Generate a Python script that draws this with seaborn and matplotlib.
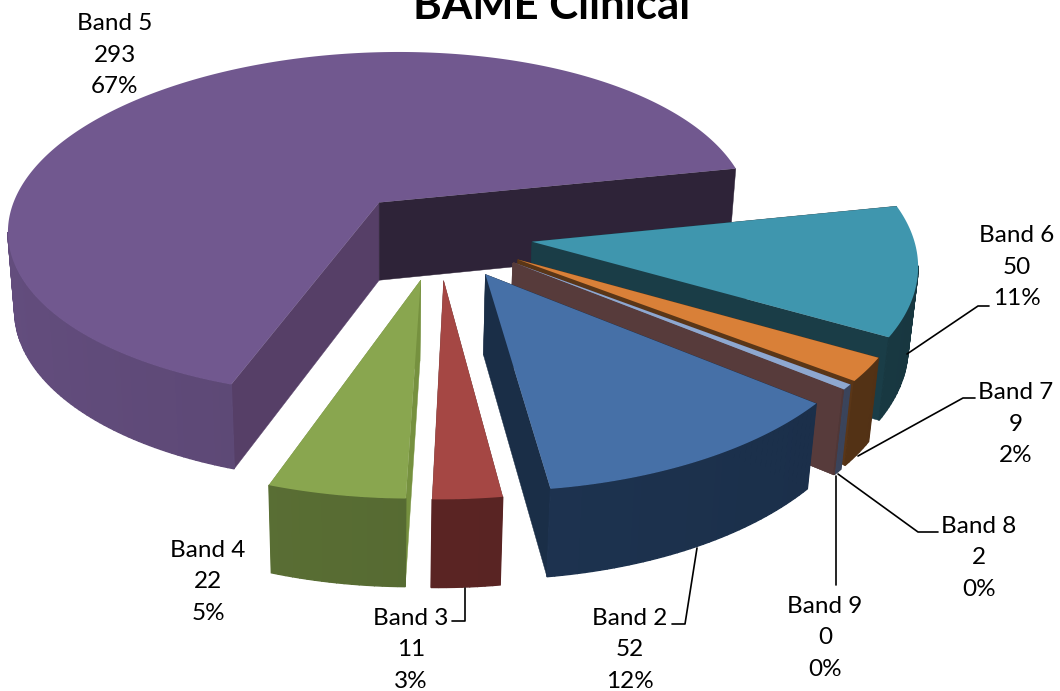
import numpy as np
import matplotlib.pyplot as plt
import seaborn as sns

# values
bands = ['Band 2', 'Band 3', 'Band 4', 'Band 5', 'Band 6', 'Band 7', 'Band 8', 'Band 9']
counts = [52, 11, 22, 293, 50, 9, 2, 0]
percents = ['12%', '3%', '5%', '67%', '11%', '2%', '0%', '0%']

top_colors = ['#4670A7', '#A54744', '#89A64F', '#71588F', '#3F96AE', '#D98038', '#8EA8D0', '#6B4A4A']
side_colors = ['#1D3350', '#5A2423', '#566A32', '#5A4672', '#1A3D47', '#5A3617', '#3F4A63', '#573B3B']
start_face = ['#1A2E47', '#6E2C29', '#76913F', '#563F67', '#1A3D47', '#5A3617', '#573B3B', '#573B3B']
end_face = ['#1A2E47', '#6E2C29', '#76913F', '#2E2338', '#1A3D47', '#5A3617', '#573B3B', '#573B3B']

# order the slices get painted in, back to front
paint_order = [3, 4, 5, 6, 7, 2, 1, 0]

label_pos = [(630, 650), (411, 650), (208, 582), (115, 55), (1017, 267), (1016, 424), (979, 558), (825, 638)]
leaders = [
    [(672, 624), (685, 624), (697, 548)],
    [(452, 621), (465, 621), (465, 588)],
    [],
    [],
    [(989, 306), (978, 306), (907, 354)],
    [(975, 398), (963, 398), (858, 456)],
    [(938, 532), (918, 532), (838, 474)],
    [(836, 585), (836, 476)],
]

# pie geometry
first_angle = 131.0
explode = 0.25
center = (0.15, -0.22)
cx, cy = 382, 198
rx, ry = 367, 168
persp = 0.125
depth = 79
shrink = 0.018
skew = 8


def project(x, y, z=0):
    d = 1 + persp * y - shrink * z
    return cx + rx * x / d, cy - (ry * y + depth * z) / d - skew * x


sns.set_theme(style='white')
plt.rcParams['font.family'] = ['Lato', 'DejaVu Sans']
fig, ax = plt.subplots(figsize=(10.6, 6.91), dpi=100)
ax.set_position([0, 0, 1, 1])
ax.set_xlim(0, 1060)
ax.set_ylim(691, 0)
ax.axis('off')

sweep = np.array(counts) / sum(counts) * 360
starts = first_angle + np.concatenate([[0], np.cumsum(sweep)[:-1]])


def radial_face(ox, oy, t, color):
    ex, ey = ox + np.sin(t), oy + np.cos(t)
    xs, ys = project(np.array([ox, ex, ex, ox]), np.array([oy, ey, ey, oy]), np.array([0, 0, -1, -1]))
    ax.fill(xs, ys, color=color, lw=0.3)


for i in paint_order:
    t0 = np.radians(starts[i])
    t1 = np.radians(starts[i] + sweep[i])
    mid = (t0 + t1) / 2
    ox = center[0] + explode * np.sin(mid)
    oy = center[1] + explode * np.cos(mid)

    radial_face(ox, oy, t0, start_face[i])
    radial_face(ox, oy, t1, end_face[i])

    # outer wall, in small strips so the shading can change round the rim
    n = max(int(np.degrees(t1 - t0)), 2)
    angles = np.linspace(t0, t1, n + 1)
    for a, b in zip(angles[:-1], angles[1:]):
        m = (a + b) / 2
        # skip the strips that face away from the viewer
        if -ox * np.sin(m) - (1 / persp + oy) * np.cos(m) - 1 <= 0:
            continue
        shade = 0.9 + 0.2 * ((np.sin(m) + 1) / 2)
        col = np.clip(np.array(sns.desaturate(side_colors[i], 1)) * (2 - shade), 0, 1)
        xs, ys = project(ox + np.sin([a, b, b, a]), oy + np.cos([a, b, b, a]), np.array([0, 0, -1, -1]))
        ax.fill(xs, ys, color=col, lw=1.0)

    # top
    angles = np.linspace(t0, t1, 2 * n + 1)
    xs, ys = project(np.r_[ox, ox + np.sin(angles)], np.r_[oy, oy + np.cos(angles)])
    ax.fill(xs, ys, color=top_colors[i], lw=0)

for seg in leaders:
    if seg:
        ax.plot(*zip(*seg), color='black', lw=1.2)

for name, n, pct, (x, y) in zip(bands, counts, percents, label_pos):
    ax.text(x, y, f'{name}\n{n}\n{pct}', ha='center', va='center', fontsize=17.5,
            color='black', linespacing=1.6)

ax.text(552, 19, 'BAME Clinical', ha='center', va='baseline', fontsize=31.5, fontweight='bold', color='black')

fig.savefig('out.png', dpi=100)
